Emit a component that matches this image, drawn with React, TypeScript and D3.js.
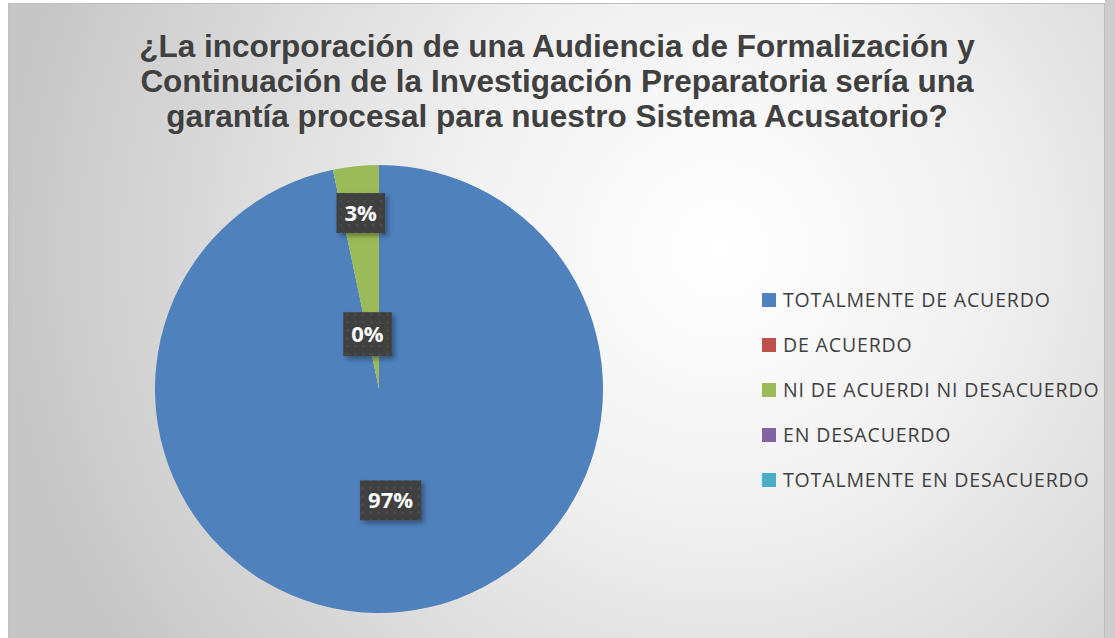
import * as d3 from 'd3';
import { useEffect, useRef } from 'react';

// datos del gráfico (porcentajes; la etiqueta muestra el valor redondeado)
const categories = [
  'TOTALMENTE DE ACUERDO',
  'DE ACUERDO',
  'NI DE ACUERDI NI DESACUERDO',
  'EN DESACUERDO',
  'TOTALMENTE EN DESACUERDO',
];
const values: (number | null)[] = [96.7, 0, 3.3, null, null];
const colors = ['#4f81bd', '#c0504d', '#9bbb59', '#8064a2', '#4bacc6'];
const labelRadius = [0.5, 0.25, 0.79, 0, 0];
const titleLines = [
  '¿La incorporación de una Audiencia de Formalización y',
  'Continuación de la Investigación Preparatoria sería una',
  'garantía procesal para nuestro Sistema Acusatorio?',
];

const App = () => {
  const ref = useRef<SVGSVGElement>(null);
  const width = 1115;
  const height = 638;

  useEffect(() => {
    const svg = d3.select(ref.current);
    svg.selectAll('*').remove();

    const defs = svg.append('defs');
    const grad = defs
      .append('radialGradient')
      .attr('id', 'bg')
      .attr('gradientUnits', 'userSpaceOnUse')
      .attr('cx', 720)
      .attr('cy', 250)
      .attr('r', 720);
    grad.append('stop').attr('offset', '0%').attr('stop-color', '#ffffff');
    grad.append('stop').attr('offset', '35%').attr('stop-color', '#f2f2f2');
    grad.append('stop').attr('offset', '100%').attr('stop-color', '#c6c6c6');

    const pat = defs
      .append('pattern')
      .attr('id', 'dots')
      .attr('width', 8)
      .attr('height', 8)
      .attr('patternUnits', 'userSpaceOnUse');
    pat.append('rect').attr('width', 8).attr('height', 8).attr('fill', '#3f3f3f');
    pat.append('circle').attr('cx', 4).attr('cy', 4).attr('r', 1.6).attr('fill', '#4c4c4c');

    const shadow = defs.append('filter').attr('id', 'sh').attr('x', '-30%').attr('y', '-30%').attr('width', '160%').attr('height', '160%');
    shadow
      .append('feDropShadow')
      .attr('dx', 3)
      .attr('dy', 3)
      .attr('stdDeviation', 2.5)
      .attr('flood-color', '#000')
      .attr('flood-opacity', 0.35);

    // fondo
    svg.append('rect').attr('x', 1105).attr('y', 0).attr('width', 10).attr('height', height).attr('fill', '#cccccc');
    svg
      .append('rect')
      .attr('x', 8.5)
      .attr('y', 3.5)
      .attr('width', 1096)
      .attr('height', 640)
      .attr('fill', 'url(#bg)')
      .attr('stroke', '#bdbdbd');

    // título
    svg
      .append('g')
      .selectAll('text')
      .data(titleLines)
      .enter()
      .append('text')
      .attr('x', 557)
      .attr('y', (d, i) => 57 + i * 35)
      .attr('text-anchor', 'middle')
      .attr('font-family', 'Liberation Sans, Arial, sans-serif')
      .attr('font-weight', 'bold')
      .attr('font-size', 31.5)
      .attr('fill', '#404040')
      .text((d) => d);

    // pastel
    const cx = 379,
      cy = 389,
      r = 224;
    const data = categories.map((c, i) => ({ name: c, value: values[i], color: colors[i], lr: labelRadius[i] }));
    const pie = d3
      .pie<any>()
      .sort(null)
      .value((d) => d.value || 0);
    const arcs = pie(data);
    const arc = d3.arc<any>().innerRadius(0).outerRadius(r);

    const g = svg.append('g').attr('transform', 'translate(' + cx + ',' + cy + ')');
    g.selectAll('path')
      .data(arcs)
      .enter()
      .append('path')
      .attr('d', arc)
      .attr('fill', (d) => d.data.color);

    // etiquetas
    const labels = g
      .selectAll('g.lbl')
      .data(arcs.filter((d) => d.data.value !== null))
      .enter()
      .append('g')
      .attr('class', 'lbl')
      .attr('transform', (d) => {
        const a = (d.startAngle + d.endAngle) / 2;
        const rr = r * d.data.lr;
        return 'translate(' + Math.sin(a) * rr + ',' + -Math.cos(a) * rr + ')';
      });

    labels
      .append('text')
      .attr('text-anchor', 'middle')
      .attr('dy', '0.36em')
      .attr('font-family', 'Open Sans, sans-serif')
      .attr('font-weight', 'bold')
      .attr('font-size', 22)
      .attr('fill', '#ffffff')
      .text((d) => Math.round(d.data.value) + '%')
      .each(function (d: any) {
        const bb = (this as SVGTextElement).getBBox();
        const par = d3.select((this as any).parentNode);
        const h = d.data.value === 0 ? 44 : 40;
        par
          .insert('rect', 'text')
          .attr('x', bb.x - 8)
          .attr('y', -h / 2)
          .attr('width', bb.width + 16)
          .attr('height', h)
          .attr('fill', 'url(#dots)')
          .attr('filter', 'url(#sh)');
      });

    // leyenda
    const legend = svg
      .append('g')
      .selectAll('g')
      .data(data)
      .enter()
      .append('g')
      .attr('transform', (d, i) => 'translate(762,' + (300 + i * 45) + ')');
    legend
      .append('rect')
      .attr('y', -7)
      .attr('width', 14)
      .attr('height', 14)
      .attr('fill', (d) => d.color);
    legend
      .append('text')
      .attr('x', 21)
      .attr('dy', '0.36em')
      .attr('font-family', 'Open Sans, sans-serif')
      .attr('font-size', 19.5)
      .attr('letter-spacing', 0.85)
      .attr('fill', '#404040')
      .text((d) => d.name);
  }, []);

  return (
    <svg ref={ref} width={width} height={height} style={{ position: 'absolute', left: 0, top: 0 }}></svg>
  );
};

export default App;
